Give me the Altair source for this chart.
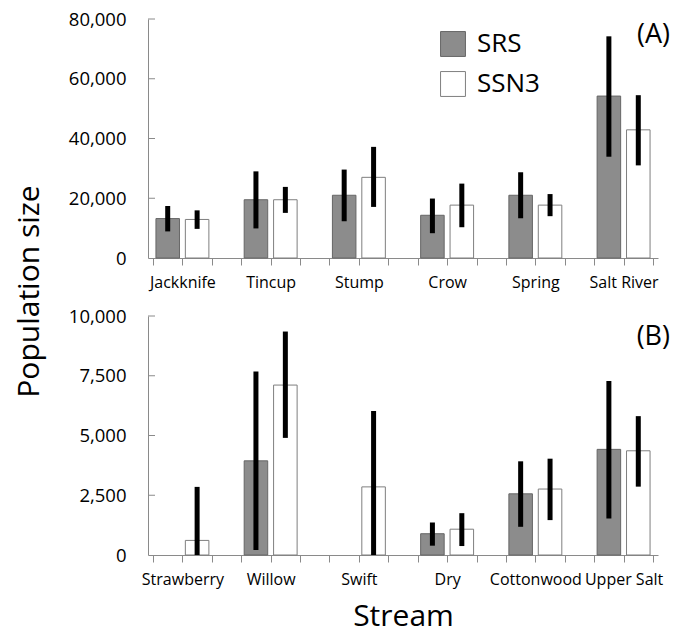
import altair as alt
import pandas as pd

FONT = "Open Sans"

methods = ["SRS", "SSN3"]
method_fill = ["#8c8c8c", "#ffffff"]
method_stroke = ["#666666", "#7f7f7f"]

# Panel (A)
streams_a = ["Jackknife", "Tincup", "Stump", "Crow", "Spring", "Salt River"]
srs_a = [13200, 19500, 21000, 14300, 21000, 54200]
srs_a_lo = [8900, 9900, 12300, 8300, 13300, 33900]
srs_a_hi = [17400, 29000, 29600, 19900, 28700, 74200]
ssn3_a = [12900, 19500, 27000, 17700, 17700, 42900]
ssn3_a_lo = [9750, 15100, 17100, 10300, 14000, 31000]
ssn3_a_hi = [15950, 23800, 37200, 24900, 21400, 54500]
y_ticks_a = [0, 20000, 40000, 60000, 80000]

# Panel (B)
streams_b = ["Strawberry", "Willow", "Swift", "Dry", "Cottonwood", "Upper Salt"]
srs_b = [None, 3940, None, 890, 2560, 4420]
srs_b_lo = [None, 210, None, 390, 1180, 1530]
srs_b_hi = [None, 7680, None, 1360, 3920, 7280]
ssn3_b = [610, 7110, 2850, 1080, 2760, 4360]
ssn3_b_lo = [0, 4900, 0, 375, 1460, 2860]
ssn3_b_hi = [2850, 9350, 6030, 1750, 4030, 5810]
y_ticks_b = [0, 2500, 5000, 7500, 10000]

panel_tags = ["(A)", "(B)"]
tag_y = [79000, 9650]

N_SLOTS = 17
W, H = 510, 239


def build(streams, srs, srs_lo, srs_hi, ssn, ssn_lo, ssn_hi):
    rows = []
    for i, s in enumerate(streams):
        for j, (m, v, lo, hi) in enumerate(
            [("SRS", srs[i], srs_lo[i], srs_hi[i]), ("SSN3", ssn[i], ssn_lo[i], ssn_hi[i])]
        ):
            if v is None:
                continue
            slot = 3 * i + j
            rows.append(dict(stream=s, method=m, value=v, lo=lo, hi=hi,
                             x0=slot + 0.1, x1=slot + 0.9, xc=slot + 0.5))
    return pd.DataFrame(rows)


def panel(df, streams, yticks, tag, ty, legend, xtitle, ytitle):
    label_expr = " : ".join(
        f"datum.value == {3 * i + 1} ? '{s}'" for i, s in enumerate(streams)
    ) + " : ''"
    xscale = alt.Scale(domain=[0, N_SLOTS], nice=False, zero=False)
    yscale = alt.Scale(domain=[0, yticks[-1]], nice=False)

    xaxis_kw = dict(values=list(range(N_SLOTS + 1)), labelExpr=label_expr,
                    labelFontSize=16, labelPadding=9, tickSize=7,
                    labelOverlap=False, labelFlush=False, labelAngle=0,
                    labelBound=False)
    if xtitle:
        xaxis_kw.update(title="Stream", titleFontSize=30, titlePadding=14)
    else:
        xaxis_kw.update(title=None)

    yaxis_kw = dict(values=yticks, format=",.0f", labelFontSize=18.5, tickSize=0,
                    labelPadding=22, labelOverlap=False)
    if ytitle:
        yaxis_kw.update(title="Population size", titleFontSize=30, titleAngle=-90,
                        titleX=-119, titleY=272, titleAlign="center",
                        titleBaseline="middle")
    else:
        yaxis_kw.update(title=None)
    xaxis = alt.Axis(**xaxis_kw)
    yaxis = alt.Axis(**yaxis_kw)

    fill_kw = dict(scale=alt.Scale(domain=methods, range=method_fill))
    if legend:
        fill_kw["legend"] = alt.Legend(
            title=None, orient="none", legendX=292, legendY=12,
            symbolType="square", symbolSize=620, symbolStrokeColor="#7f7f7f",
            symbolStrokeWidth=1, symbolOpacity=1, labelFontSize=26, labelFont=FONT,
            labelOffset=11, rowPadding=10, padding=0,
        )
    else:
        fill_kw["legend"] = None

    bars = alt.Chart(df).mark_bar(strokeWidth=1, orient="vertical").encode(
        x=alt.X("x0:Q", scale=xscale, axis=xaxis),
        x2="x1:Q",
        y=alt.Y("value:Q", scale=yscale, axis=yaxis),
        y2=alt.datum(0),
        fill=alt.Fill("method:N", **fill_kw),
        stroke=alt.Stroke("method:N", scale=alt.Scale(domain=methods, range=method_stroke),
                          legend=None),
    )
    errs = alt.Chart(df).mark_rule(strokeWidth=5, color="black").encode(
        x=alt.X("xc:Q", scale=xscale, axis=xaxis),
        y=alt.Y("lo:Q", scale=yscale, axis=yaxis),
        y2="hi:Q",
    )
    inticks = alt.Chart(pd.DataFrame({"t": yticks[1:]})).mark_rule(
        color="#8a8a8a", strokeWidth=1
    ).encode(y=alt.Y("t:Q", scale=yscale, axis=yaxis), x=alt.value(0), x2=alt.value(7))
    label = alt.Chart(pd.DataFrame({"tag": [tag], "ty": [ty]})).mark_text(
        align="right", baseline="top", fontSize=27, font=FONT, dx=17, color="black"
    ).encode(
        x=alt.datum(N_SLOTS, scale=xscale, axis=xaxis),
        y=alt.Y("ty:Q", scale=yscale, axis=yaxis),
        text="tag:N",
    )
    return alt.layer(bars, errs, inticks, label).properties(width=W, height=H)


df_a = build(streams_a, srs_a, srs_a_lo, srs_a_hi, ssn3_a, ssn3_a_lo, ssn3_a_hi)
df_b = build(streams_b, srs_b, srs_b_lo, srs_b_hi, ssn3_b, ssn3_b_lo, ssn3_b_hi)

pa = panel(df_a, streams_a, y_ticks_a, panel_tags[0], tag_y[0], True, False, True)
pb = panel(df_b, streams_b, y_ticks_b, panel_tags[1], tag_y[1], False, True, False)

chart = alt.vconcat(pa, pb, spacing=58, bounds="flush").resolve_scale(
    fill="independent", stroke="independent"
).properties(
    padding={"left": 6, "top": 2, "right": 0, "bottom": 20}
).configure_view(stroke=None).configure_axis(
    grid=False, domainColor="#8a8a8a", tickColor="#8a8a8a", labelColor="black",
    titleColor="black", labelFont=FONT, titleFont=FONT, titleFontWeight="normal",
)

chart.save("out.html", embed_options={"renderer": "svg", "actions": False})
